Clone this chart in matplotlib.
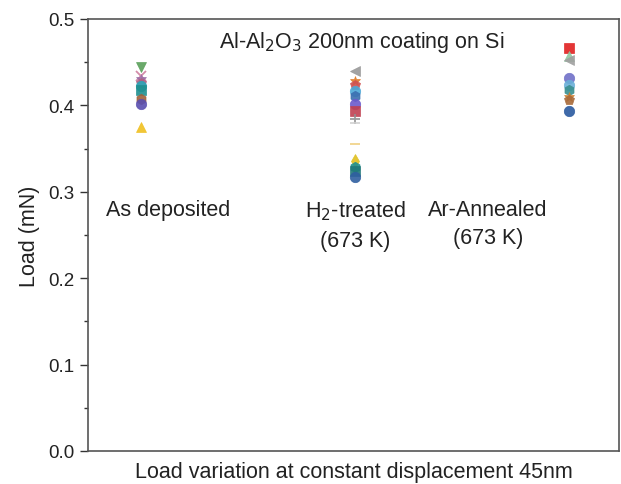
import matplotlib.pyplot as plt

plt.rcParams['font.family'] = ['Liberation Sans', 'DejaVu Sans']

# положения групп по оси x
groups = [1, 2, 3]
group_labels = ['As deposited', 'H$_2$-treated\n(673 K)', 'Ar-Annealed\n(673 K)']

# нагрузка (мН) для каждой группы
load_as_dep = [0.444, 0.434, 0.430, 0.426, 0.422, 0.418, 0.407, 0.402, 0.375]
load_h2 = [0.440, 0.428, 0.424, 0.417, 0.411, 0.402, 0.393, 0.384, 0.380,
           0.355, 0.336, 0.329, 0.324, 0.317]
load_ar = [0.466, 0.457, 0.453, 0.432, 0.424, 0.418, 0.410, 0.406, 0.394]

mk_as_dep = ['v', 'x', '*', 'p', 'o', 's', 'h', 'o', '^']
col_as_dep = ['#5aa05a', '#d080a0', '#9b6fa8', '#b06080', '#2aa6b8', '#1f8f8f',
              '#a0603a', '#5a4fb0', '#f0c020']
mk_h2 = ['<', '*', 'p', 'o', 'h', 'o', 's', '+', '_', '_', 'd', 'h', 's', 'o']
col_h2 = ['#999999', '#e07b28', '#d05050', '#4ba8d8', '#3b6fb0', '#6a5acd',
          '#c04050', '#909090', '#d0d0d0', '#f0d080', '#e0c020', '#1f9090',
          '#207878', '#2f5fa0']
mk_ar = ['s', '^', '<', 'o', 'o', 'h', '*', 'p', 'o']
col_ar = ['#e02020', '#8fc8a0', '#a0a0a0', '#7070c8', '#6ab0d8', '#3a9090',
          '#d08030', '#a86a3a', '#2a5aa0']

fig = plt.figure(figsize=(6.21, 4.85), dpi=100)
ax = fig.add_axes([88 / 621, 1 - 452 / 485, 531 / 621, 432 / 485])

data = [(load_as_dep, mk_as_dep, col_as_dep),
        (load_h2, mk_h2, col_h2),
        (load_ar, mk_ar, col_ar)]
for x, (vals, mks, cols) in zip(groups, data):
    for v, m, c in zip(vals, mks, cols):
        ax.plot(x, v, marker=m, color=c, markersize=7.5, linestyle='none',
                markeredgewidth=1.3 if m in ('x', '+', '_') else 0.5, alpha=0.9)

ax.set_xlim(0.752, 3.233)
ax.set_ylim(0, 0.5)
ax.set_yticks([0.0, 0.1, 0.2, 0.3, 0.4, 0.5])
ax.set_yticks([0.05, 0.15, 0.25, 0.35, 0.45], minor=True)
ax.set_xticks([])
ax.tick_params(axis='y', which='major', length=6, width=1, labelsize=13.5,
               colors='#333333', labelcolor='#222222')
ax.tick_params(axis='y', which='minor', length=3, width=1, colors='#333333')
for s in ax.spines.values():
    s.set_color('#555555')
    s.set_linewidth(1.2)

ax.set_ylabel('Load (mN)', fontsize=15.5, color='#222222', labelpad=6)
ax.set_xlabel('Load variation at constant displacement 45nm', fontsize=15.5,
              color='#222222', labelpad=7)

ax.text(2.03, 0.4745, 'Al-Al$_2$O$_3$ 200nm coating on Si', ha='center', va='center',
        fontsize=15.5, color='#222222')
# подписи групп
label_x = [1.125, 2.0, 2.62]
for lx, lab in zip(label_x, group_labels):
    ax.text(lx, 0.292, lab, ha='center', va='top',
            fontsize=15.5, color='#222222', linespacing=1.45)

fig.savefig('out.png', dpi=100)
